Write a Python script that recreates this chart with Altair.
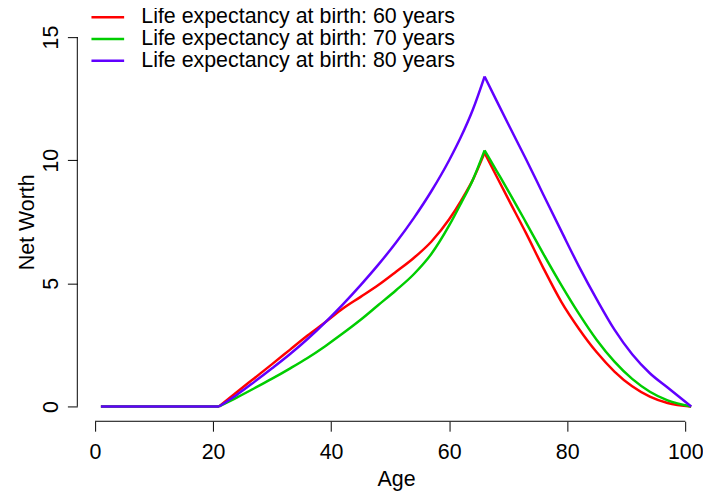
import altair as alt
import pandas as pd

# ---- data ----
ages = [1, 21, 24, 27, 30, 33, 36, 39, 42, 45, 48, 51, 54, 57, 60, 62, 64, 66,
        68, 70, 73, 76, 79, 82, 85, 88, 91, 94, 97, 101]
nw_60 = [0, 0, 0.58, 1.15, 1.72, 2.3, 2.88, 3.42, 3.98, 4.45, 4.93, 5.47, 6.03, 6.7,
         7.6, 8.35, 9.2, 10.3, 9.36, 8.43, 7.05, 5.6, 4.25, 3.15, 2.2, 1.42, 0.82,
         0.4, 0.14, 0]
nw_70 = [0, 0, 0.36, 0.74, 1.13, 1.54, 1.97, 2.45, 2.97, 3.52, 4.12, 4.72, 5.37, 6.2,
         7.35, 8.25, 9.2, 10.4, 9.58, 8.76, 7.48, 6.18, 4.93, 3.76, 2.7, 1.82, 1.12,
         0.6, 0.25, 0]
nw_80 = [0, 0, 0.47, 1.0, 1.55, 2.12, 2.74, 3.42, 4.15, 4.93, 5.76, 6.66, 7.65, 8.75,
         10.0, 10.95, 12.05, 13.4, 12.43, 11.47, 10.05, 8.58, 7.12, 5.68, 4.35, 3.12,
         2.12, 1.35, 0.77, 0]
series_labels = ["Life expectancy at birth: 60 years",
                 "Life expectancy at birth: 70 years",
                 "Life expectancy at birth: 80 years"]
series_colors = ["#FF0000", "#00CD00", "#6100FF"]
work_start, retire_age = 21, 66      # kinks of the curves (start saving, retire)
x_ticks = [0, 20, 40, 60, 80, 100]
y_ticks = [0, 5, 10, 15]
x_domain = [-3, 103]
y_domain = [-0.6, 15.6]

rows = []
for si, (lab, vals) in enumerate(zip(series_labels, [nw_60, nw_70, nw_80])):
    for a, v in zip(ages, vals):
        # each curve is split at its kinks so that the smooth pieces keep sharp corners
        segs = []
        if a <= work_start:
            segs.append(0)
        if work_start <= a <= retire_age:
            segs.append(1)
        if a >= retire_age:
            segs.append(2)
        for sg in segs:
            rows.append({"age": a, "nw": v, "series": lab, "seg": f"{si}-{sg}"})
df = pd.DataFrame(rows)

FONT = "Liberation Sans"
FS = 21.6
W, H = 632, 403

xscale = alt.Scale(domain=x_domain, nice=False, zero=False)
yscale = alt.Scale(domain=y_domain, nice=False, zero=False)

lines = alt.Chart(df).mark_line(strokeWidth=2.5, interpolate="monotone").encode(
    x=alt.X("age:Q", scale=xscale,
            axis=alt.Axis(values=x_ticks, title="Age", domain=False, grid=False,
                          tickSize=10, tickColor="black", tickWidth=1,
                          labelFontSize=FS, labelFont=FONT, labelColor="black",
                          labelPadding=11, labelFlush=False,
                          titleFontSize=FS, titleFont=FONT, titleFontWeight="normal",
                          titleColor="black", titleX=322, titleY=65,
                          titleBaseline="alphabetic", titleAlign="center")),
    y=alt.Y("nw:Q", scale=yscale,
            axis=alt.Axis(values=y_ticks, title="Net Worth", domain=False, grid=False,
                          tickSize=10, tickColor="black", tickWidth=1,
                          labelFontSize=FS, labelFont=FONT, labelColor="black",
                          labelAngle=270, labelAlign="center",
                          labelBaseline="alphabetic", labelPadding=10,
                          labelFlush=False,
                          titleFontSize=FS, titleFont=FONT, titleFontWeight="normal",
                          titleColor="black", titleAngle=270, titleX=-44,
                          titleY=H / 2, titleBaseline="alphabetic",
                          titleAlign="center")),
    color=alt.Color("series:N",
                    scale=alt.Scale(domain=series_labels, range=series_colors),
                    legend=alt.Legend(title=None, orient="none", legendX=20,
                                      legendY=-16, symbolType="M-3,0H3",
                                      symbolSize=121, symbolStrokeWidth=2.5,
                                      labelFontSize=FS, labelFont=FONT,
                                      labelColor="black", rowPadding=-1,
                                      labelOffset=23, padding=0, labelLimit=0)),
    detail="seg:N",
)

xaxis_df = pd.DataFrame({"x": [x_ticks[0]], "x2": [x_ticks[-1]], "y": [y_domain[0]]})
yaxis_df = pd.DataFrame({"x": [x_domain[0]], "y": [y_ticks[0]], "y2": [y_ticks[-1]]})

xaxis_line = alt.Chart(xaxis_df).mark_rule(color="black", strokeWidth=1).encode(
    x=alt.X("x:Q", scale=xscale, axis=None), x2="x2:Q",
    y=alt.Y("y:Q", scale=yscale, axis=None))
yaxis_line = alt.Chart(yaxis_df).mark_rule(color="black", strokeWidth=1).encode(
    x=alt.X("x:Q", scale=xscale, axis=None),
    y=alt.Y("y:Q", scale=yscale, axis=None), y2="y2:Q")

chart = alt.layer(lines, xaxis_line, yaxis_line).resolve_axis(
    x="independent", y="independent"
).properties(
    width=W, height=H,
    background="white",
    autosize=alt.AutoSizeParams(type="none"),
    padding={"left": 70, "top": 12, "right": 0, "bottom": 70},
).configure_view(stroke=None)

chart.save("out.html", embed_options={"renderer": "svg", "actions": False})
